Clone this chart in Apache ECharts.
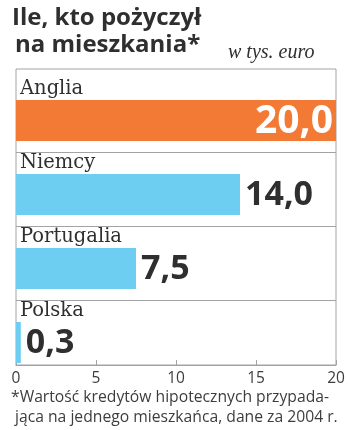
<!DOCTYPE html>
<html>
<head>
<meta charset="utf-8">
<script src="https://cdn.jsdelivr.net/npm/echarts@6/dist/echarts.min.js"></script>
<style>
  html, body { margin: 0; padding: 0; background: #fff; }
  #chart { width: 350px; height: 430px; }
</style>
</head>
<body>
<div id="chart"></div>
<script>
// Mortgage debt per inhabitant, thousands of euro (2004)
const categories = ['Anglia', 'Niemcy', 'Portugalia', 'Polska'];
const values = [20.0, 14.0, 7.5, 0.3];
const xTicks = [0, 5, 10, 15, 20];

const ORANGE = '#F27A35';
const BLUE = '#6DCEF1';
const INK = '#2f2f2f';
const NOTE = '#3d3d3d';
const RULE = '#a3a3a3';

const BAR_HEIGHT = 41;
const BAR_SHIFT = 31;      // bar top measured from the top of its category band
const RULE_GAP = 11;       // space between a bar and the rule under it

const maxValue = Math.max(...values);
const fmt = v => v.toFixed(1).replace('.', ',');

function renderItem(params, api) {
  const i = params.dataIndex;
  const v = api.value(0);
  const cat = api.value(1);
  const end = api.coord([v, cat]);
  const start = api.coord([0, cat]);
  const band = Math.abs(api.size([0, 1])[1]);
  const cs = params.coordSys;
  const bandTop = end[1] - band / 2;
  const barTop = bandTop + BAR_SHIFT;
  const barMid = barTop + BAR_HEIGHT / 2;
  const isTop = v === maxValue;

  const children = [];
  children.push({
    type: 'rect',
    shape: { x: start[0], y: barTop, width: end[0] - start[0], height: BAR_HEIGHT },
    style: { fill: isTop ? ORANGE : BLUE }
  });
  children.push({
    type: 'text',
    style: {
      text: categories[i],
      x: cs.x + 4,
      y: barTop - 1,
      align: 'left',
      verticalAlign: 'bottom',
      font: '19.5px "DejaVu Serif"',
      fill: INK
    }
  });
  children.push({
    type: 'text',
    style: isTop ? {
      text: fmt(v),
      x: cs.x + cs.width - 3,
      y: barMid + 1,
      align: 'right',
      verticalAlign: 'middle',
      font: 'bold 39px "Open Sans"',
      fill: '#ffffff'
    } : {
      text: fmt(v),
      x: end[0] + 5,
      y: barMid + 1,
      align: 'left',
      verticalAlign: 'middle',
      font: 'bold 34px "Open Sans"',
      fill: INK
    }
  });
  if (i < categories.length - 1) {
    const ry = Math.round(barTop + BAR_HEIGHT + RULE_GAP) + 0.5;
    children.push({
      type: 'line',
      shape: { x1: cs.x, y1: ry, x2: cs.x + cs.width, y2: ry },
      style: { stroke: RULE, lineWidth: 1 }
    });
  }
  return { type: 'group', children };
}

const chart = echarts.init(document.getElementById('chart'), null, { renderer: 'canvas' });
chart.setOption({
  animation: false,
  backgroundColor: '#ffffff',
  title: [
    {
      text: 'Ile, kto pożyczył', left: 12, top: 4, padding: 0,
      textStyle: { fontFamily: 'Open Sans', fontWeight: 'bold', fontSize: 24, lineHeight: 28, color: INK }
    },
    {
      text: 'na mieszkania*', left: 15, top: 31, padding: 0,
      textStyle: { fontFamily: 'Open Sans', fontWeight: 'bold', fontSize: 24, lineHeight: 28, color: INK }
    },
    {
      text: 'w tys. euro', left: 228, top: 41, padding: 0,
      textStyle: { fontFamily: 'Liberation Serif', fontStyle: 'italic', fontWeight: 'normal', fontSize: 20, lineHeight: 24, color: INK }
    },
    {
      text: '*Wartość kredytów hipotecznych przypada-', left: 11, top: 389, padding: 0,
      textStyle: { fontFamily: 'Open Sans', fontWeight: 'normal', fontSize: 15.7, lineHeight: 18, color: NOTE }
    },
    {
      text: 'jąca na jednego mieszkańca, dane za 2004 r.', left: 15, top: 409, padding: 0,
      textStyle: { fontFamily: 'Open Sans', fontWeight: 'normal', fontSize: 15.7, lineHeight: 18, color: NOTE }
    }
  ],
  grid: {
    left: 16, right: 14, top: 69, bottom: 65,
    show: true, borderColor: RULE, borderWidth: 1, backgroundColor: 'transparent'
  },
  xAxis: {
    type: 'value',
    min: xTicks[0],
    max: xTicks[xTicks.length - 1],
    interval: xTicks[1] - xTicks[0],
    axisLine: { show: true, lineStyle: { color: RULE, width: 1 } },
    axisTick: { show: true, inside: true, length: 5, lineStyle: { color: RULE } },
    axisLabel: {
      margin: 6, color: NOTE, fontFamily: 'Open Sans', fontWeight: 'normal', fontSize: 15.5,
      formatter: v => String(v)
    },
    splitLine: { show: false }
  },
  yAxis: {
    type: 'category',
    data: categories,
    inverse: true,
    axisLine: { show: false },
    axisTick: { show: false },
    axisLabel: { show: false },
    splitLine: { show: false }
  },
  series: [{
    type: 'custom',
    renderItem: renderItem,
    encode: { x: 0, y: 1 },
    data: values.map((v, i) => [v, i]),
    clip: false,
    z: 2
  }]
});
</script>
</body>
</html>
